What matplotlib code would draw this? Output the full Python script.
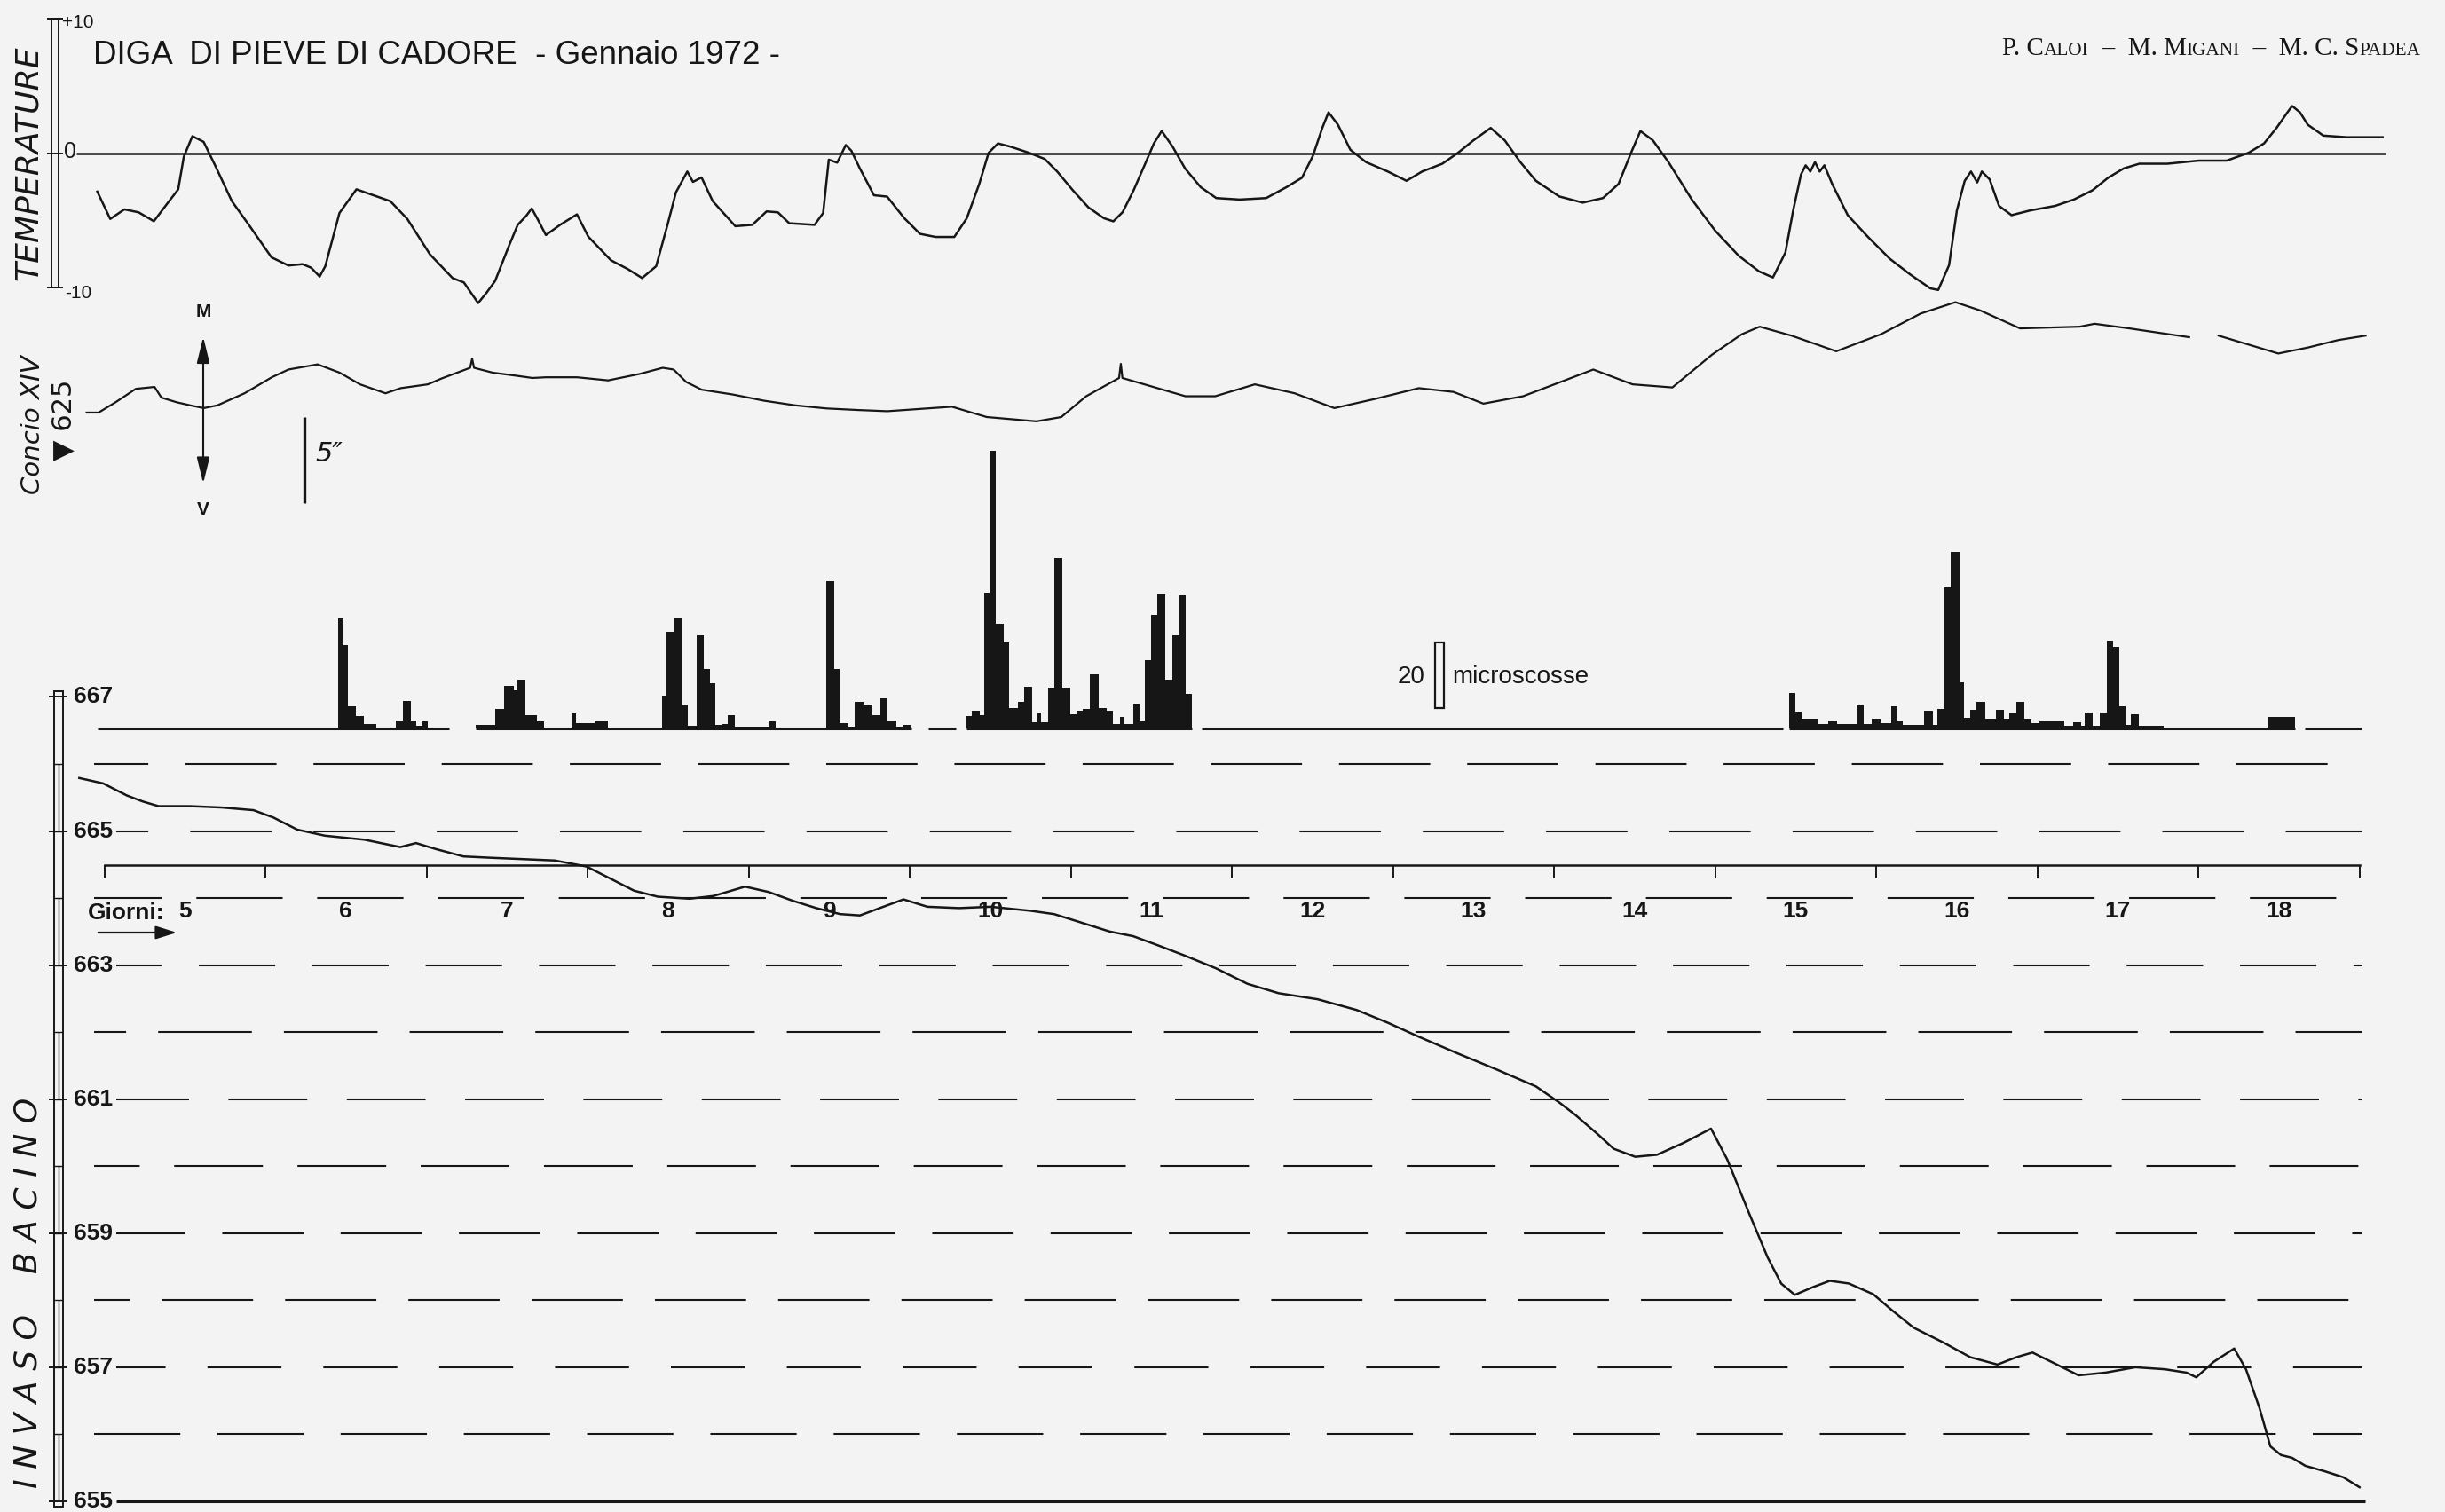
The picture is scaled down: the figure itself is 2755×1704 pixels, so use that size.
import numpy as np
import matplotlib
matplotlib.use("Agg")
import matplotlib.pyplot as plt
from matplotlib.patches import Rectangle, FancyArrowPatch

# all times in hours from 5 Jan 1972, 00h
temp_h = [-1.04, 0.89, 3.00, 5.12, 7.39, 9.32, 11.02, 11.85, 13.13, 14.81, 16.50, 19.01, 21.54, 24.91,
          27.44, 29.54, 30.81, 32.09, 32.93, 35.04, 37.57, 40.08, 42.62, 45.15, 48.52, 51.89, 53.58,
          55.70, 56.95, 58.23, 60.32, 61.60, 62.85, 63.69, 64.55, 65.80, 67.92, 70.43, 72.12, 75.49,
          78.02, 80.14, 82.23, 83.92, 85.18, 86.87, 87.71, 88.99, 90.66, 94.03, 96.56, 98.68, 100.37,
          102.05, 105.83, 107.11, 107.95, 109.20, 110.48, 111.32, 112.59, 114.68, 116.64, 119.21,
          121.54, 123.86, 126.65, 128.51, 130.37, 131.76, 133.16, 135.01, 137.80, 140.13, 141.98,
          144.31, 146.63, 148.95, 150.35, 151.74, 153.37, 154.99, 156.39, 157.55, 159.18, 161.03,
          163.36, 165.68, 169.17, 173.12, 176.14, 178.45, 180.08, 181.48, 182.41, 183.81, 185.66,
          187.99, 191.24, 194.03, 196.35, 199.37, 201.69, 204.01, 206.57, 208.66, 210.99, 213.31,
          216.79, 220.28, 223.30, 225.62, 227.48, 228.88, 230.73, 233.06, 236.54, 240.03, 243.51,
          246.53, 248.62, 250.48, 251.64, 252.80, 253.50, 254.20, 254.89, 255.59, 256.29, 257.45,
          259.77, 262.79, 266.04, 269.06, 272.08, 273.25, 274.87, 276.03, 277.20, 278.13, 279.06,
          279.75, 280.91, 282.31, 284.17, 286.95, 290.67, 293.46, 296.25, 298.57, 300.89, 303.22,
          307.40, 312.05, 316.23, 319.48, 321.80, 323.66, 325.29, 325.98, 327.15, 328.31, 330.63,
          334.12, 337.14, 339.46]
temp_c = [-2.85, -4.88, -4.17, -4.39, -5.05, -3.78, -2.68, -0.26, 1.27, 0.84, -0.89, -3.56, -5.32, -7.73,
          -8.34, -8.24, -8.50, -9.16, -8.39, -4.44, -2.68, -3.12, -3.56, -4.88, -7.51, -9.27, -9.60,
          -11.13, -10.37, -9.49, -6.85, -5.32, -4.66, -4.10, -4.88, -6.08, -5.32, -4.54, -6.20, -7.95,
          -8.61, -9.27, -8.39, -5.32, -2.90, -1.36, -2.13, -1.80, -3.56, -5.42, -5.32, -4.32, -4.39,
          -5.20, -5.32, -4.44, -0.48, -0.70, 0.61, 0.18, -1.14, -3.12, -3.22, -4.83,
          -5.99, -6.22, -6.22, -4.83, -2.28, 0.03, 0.73, 0.49, 0.03, -0.43, -1.36,
          -2.75, -4.02, -4.83, -5.06, -4.37, -2.75, -0.90, 0.73, 1.65, 0.49, -1.13,
          -2.52, -3.33, -3.44, -3.33, -2.52, -1.82, -0.20, 1.88, 3.04, 2.12, 0.26,
          -0.66, -1.36, -2.05, -1.36, -0.78, 0.03, 0.96, 1.88, 0.96, -0.66, -2.05,
          -3.21, -3.67, -3.33, -2.28, 0.03, 1.65, 0.96, -0.66, -3.44, -5.76, -7.61,
          -8.77, -9.23, -7.38, -4.25, -1.59, -0.90, -1.36, -0.66, -1.36, -0.90, -2.28,
          -4.60, -6.22, -7.84, -9.00, -10.04, -10.16, -8.31, -4.25, -2.05, -1.36, -2.17,
          -1.36, -1.94, -3.91, -4.60, -4.25, -3.91, -3.44, -2.75, -1.82, -1.13, -0.78,
          -0.78, -0.55, -0.55, 0.03, 0.73, 1.88, 3.04, 3.51, 3.04, 2.12, 1.31,
          1.19, 1.19, 1.19]

# concio XIV, quota 625: rotation in seconds of arc (M up, V down)
concio_h = [-2.64, -0.85, 1.68, 4.70, 7.49, 8.51, 10.79, 12.81, 14.83, 16.85, 20.89, 24.96, 27.44, 31.79,
            35.06, 38.11, 41.90, 44.17, 48.21, 50.26, 54.51, 54.81, 55.09, 57.86, 61.39, 63.80, 65.78,
            70.43, 75.07, 79.72, 83.20, 84.83, 86.69, 89.01, 93.66, 98.31, 102.95, 107.60, 112.25,
            116.68, 126.30, 131.48, 138.89, 142.59, 146.30, 151.2, 151.46, 151.7, 161.08, 165.52,
            171.44, 177.37, 183.27, 189.19, 195.86, 201.04, 205.48, 211.40, 221.86, 227.71, 233.64,
            239.54, 243.98, 246.65, 251.39, 258.06, 264.72, 270.62, 275.81, 279.52, 285.45, 294.32,
            296.55, 301.73, 307.63, 310.63, 312.8, 315.02, 319.48, 323.92, 328.36, 332.80, 336.93]
concio_as = [-0.24, -0.24, 0.36, 1.14, 1.25, 0.63, 0.36, 0.18, 0.02, 0.18, 0.88, 1.81, 2.26, 2.56,
             2.08, 1.40, 0.88, 1.18, 1.40, 1.74, 2.36, 2.89, 2.36, 2.08, 1.90, 1.77, 1.81,
             1.81, 1.63, 2.00, 2.36, 2.26, 1.54, 1.09, 0.81, 0.45, 0.18, 0.00, -0.09,
             -0.16, 0.10, -0.50, -0.75, -0.50, 0.71, 1.77, 2.59, 1.77, 0.71, 0.71,
             1.40, 0.88, 0.02, 0.54, 1.18, 0.96, 0.28, 0.71, 2.26, 1.40, 1.22,
             3.12, 4.31, 4.75, 4.23, 3.32, 4.31, 5.51, 6.17, 5.69, 4.65, 4.75,
             4.92, 4.65, 4.31, 4.14, np.nan, 4.23, 3.71, 3.19, 3.54, 3.97, 4.23]

# lake level (m a.s.l.)
livello_h = [-3.73, -0.18, 3.35, 5.72, 8.09, 12.78, 17.52, 22.24, 25.21, 28.75,
             32.88, 38.78, 44.10, 46.45, 49.42, 53.53, 57.67, 62.39, 67.13, 71.84,
             75.40, 78.93, 82.48, 87.20, 90.73, 95.47, 99.00, 102.56, 106.09, 109.64,
             112.59, 115.54, 119.08, 122.63, 127.35, 132.06, 137.99, 141.52, 145.05, 149.79,
             153.32, 156.85, 161.03, 165.68, 170.33, 174.97, 180.78, 186.59, 191.24, 195.88,
             201.69, 207.50, 213.31, 216.79, 219.12, 222.49, 224.90, 228.11, 231.34, 235.36,
             239.40, 241.82, 245.02, 247.83, 249.85, 251.88, 254.69, 257.10, 259.94, 263.56,
             266.37, 269.60, 274.02, 278.03, 282.08, 284.89, 287.30, 290.12, 294.16, 298.18,
             302.61, 307.03, 310.26, 311.70, 314.28, 317.35, 319.11, 321.13, 322.74, 324.34,
             325.97, 327.96, 330.80, 333.61, 336.03]
livello_m = [665.79, 665.71, 665.53, 665.44, 665.37, 665.37, 665.35, 665.31, 665.20, 665.02,
             664.93, 664.87, 664.76, 664.82, 664.73, 664.62, 664.60, 664.58, 664.56, 664.47,
             664.29, 664.11, 664.02, 663.99, 664.03, 664.17, 664.09, 663.96, 663.85, 663.76,
             663.74, 663.85, 663.98, 663.87, 663.85, 663.87, 663.81, 663.76, 663.65, 663.50,
             663.43, 663.30, 663.14, 662.95, 662.72, 662.58, 662.49, 662.33, 662.14, 661.93,
             661.68, 661.44, 661.19, 660.95, 660.77, 660.48, 660.26, 660.14, 660.17, 660.35,
             660.56, 660.10, 659.31, 658.64, 658.25, 658.08, 658.20, 658.29, 658.25, 658.09,
             657.85, 657.59, 657.37, 657.15, 657.04, 657.15, 657.22, 657.08, 656.88, 656.92,
             657.00, 656.97, 656.92, 656.85, 657.08, 657.28, 656.97, 656.39, 655.82, 655.69,
             655.65, 655.53, 655.45, 655.36, 655.21]

# microscosse per interval: bin edges (h) and counts, one list per burst
scosse_edges = [
    [34.9, 35.6, 36.3, 37.5, 38.7, 40.5],
    [43.4, 44.5, 45.7, 46.5, 47.4, 48.2],
    [55.4, 58.2, 59.6, 61.0, 61.6, 62.7, 64.4, 65.5],
    [69.6, 70.3, 73.1, 75.0],
    [83.1, 83.8, 84.9, 86.1, 87.0, 88.2, 89.3, 90.2, 91.0, 92.0, 92.9, 93.9, 99.1, 100.0],
    [107.6, 108.8, 109.6, 110.9, 111.8, 113.1, 114.4, 115.6, 116.7, 118.0, 118.9, 120.2],
    [128.4, 129.3, 130.4, 131.1, 131.9, 132.8, 134.0, 134.8, 136.1, 137.0, 138.3, 138.9, 139.6,
     140.6, 141.6, 142.7, 143.9, 144.9, 145.8, 146.9, 148.2, 149.3, 150.3, 151.3, 152.0, 153.3,
     154.2, 155.0, 156.0, 156.9, 158.1, 159.1, 160.2, 161.1, 162.0],
    [251.0, 252.0, 252.9, 255.3, 256.8, 258.2, 261.2, 262.1, 263.3, 264.7, 266.2, 267.2, 268.0,
     271.2, 272.4, 273.1, 274.2, 275.1, 276.4, 277.1, 278.0, 279.0, 280.2, 281.9, 283.0, 283.9,
     284.9, 286.1, 287.2, 288.3, 292.0, 293.4, 294.5, 295.1, 296.3, 297.3, 298.4, 299.3, 300.2,
     301.2, 302.0, 303.2, 306.9],
    [322.3, 326.4],
]
scosse_counts = [
    [33, 25, 6.7, 3.6, 1.3],
    [2.2, 8.2, 2.2, 0.6, 2.0],
    [1.0, 5.8, 12.7, 11.3, 14.7, 3.8, 2.0],
    [4.3, 1.6, 2.2],
    [9.8, 29.0, 33.5, 7.1, 0.7, 27.9, 17.9, 13.6, 0.9, 1.3, 4.0, 0.4, 2.0],
    [44.5, 17.9, 1.6, 0.3, 8.0, 7.1, 3.8, 8.9, 2.2, 0.3, 1.0],
    [3.6, 5.1, 3.9, 40.8, 83.9, 31.6, 26.0, 6.0, 8.0, 12.5, 1.8, 4.6, 1.8, 12.2, 51.3, 12.2, 4.2,
     5.1, 5.7, 16.1, 6.0, 5.1, 1.1, 3.3, 1.25, 7.5, 2.4, 20.4, 34.3, 40.5, 14.6, 28.0, 40.2, 10.4],
    [10.7, 4.9, 2.7, 1.2, 2.4, 1.2, 6.9, 1.2, 2.7, 1.5, 6.7, 2.2, 0.9, 5.1, 0.9, 5.8, 42.6, 53.3,
     13.8, 3.1, 5.4, 8.0, 2.7, 5.6, 2.7, 4.5, 8.0, 2.7, 1.5, 2.2, 0.6, 1.8, 0.6, 4.6, 0.6, 4.6,
     26.5, 24.6, 6.5, 0.9, 4.2, 0.6],
    [3.3],
]
# periods with the seismograph running (h)
reg_inizio = [-1.0, 55.4, 122.8, 128.4, 163.5, 251.0, 327.9]
reg_fine = [51.4, 120.2, 126.9, 162.0, 250.1, 326.4, 336.3]

giorni = list(range(5, 19))

W, H = 2755, 1704
X5 = 117.5          # pixel column of 5 Jan 0h
PX_ORA = 7.5625     # pixels per hour

INK = "#161616"
BG = "#f3f3f3"
NARROW = ["Liberation Sans", "DejaVu Sans"]
SERIF = ["Liberation Serif", "DejaVu Serif"]

plt.rcParams["lines.scale_dashes"] = False

fig = plt.figure(figsize=(W / 100, H / 100), dpi=100, facecolor=BG)


def ora(px):
    return (px - X5) / PX_ORA


def fx(px):
    return px / W


def fy(py):
    return 1 - py / H


def striscia(top, bottom, zero_px, px_unit, zero_val=0.0):
    # full-width band, same time scale for every band
    ax = fig.add_axes([0, fy(bottom), 1, (bottom - top) / H])
    ax.set_xlim(ora(0), ora(W))
    ax.set_ylim(zero_val - (bottom - zero_px) / px_unit, zero_val + (zero_px - top) / px_unit)
    ax.set_axis_off()
    return ax


# --- temperature
ax_t = striscia(0, 370, 172.7, 15.17)
ax_t.plot(temp_h, temp_c, color=INK, lw=1.8)
ax_t.hlines(0, ora(86), ora(2688), color=INK, lw=1.8)
ax_t.add_patch(Rectangle((ora(58), -10), ora(66) - ora(58), 20, fill=False, ec=INK, lw=1.4))
ax_t.hlines([10, 0, -10], ora(53), ora(71), color=INK, lw=1.4)
ax_t.text(ora(70), 9.7, "+10", fontsize=15, family=NARROW, ha="left", va="center", color=INK)
ax_t.text(ora(72), 0.1, "0", fontsize=18, family=NARROW, ha="left", va="center", color=INK)
ax_t.text(ora(73), -10.4, "-10", fontsize=15, family=NARROW, ha="left", va="center", color=INK)
fig.text(fx(32), fy(184), "TEMPERATURE", rotation=90, style="italic", fontsize=26,
         ha="center", va="center", color=INK)

# --- concio XIV
ax_c = striscia(330, 620, 460.3, 19.4)
ax_c.plot(concio_h, concio_as, color=INK, lw=1.6)
ax_c.annotate("", xy=(ora(229), 4.3), xytext=(ora(229), -4.5),
              arrowprops=dict(arrowstyle="<|-|>,head_length=0.9,head_width=0.22",
                              color=INK, lw=1.5, mutation_scale=20))
ax_c.text(ora(229), 5.6, "M", fontsize=15, fontweight="bold", ha="center", va="center",
          family=NARROW, color=INK)
ax_c.text(ora(229), -5.9, "V", fontsize=15, fontweight="bold", ha="center", va="center",
          family=NARROW, color=INK)
ax_c.vlines(ora(343), -5.5, -0.5, color=INK, lw=2.4)
ax_c.text(ora(355), -2.65, "5\u2033", style="italic", fontsize=22, ha="left", va="center",
          color=INK)
fig.text(fx(37), fy(479), "Concio XIV", rotation=90, style="italic", fontsize=21,
         ha="center", va="center", color=INK)
fig.text(fx(72), fy(473), "\u25bc 625", rotation=90, fontsize=22,
         ha="center", va="center", color=INK)

# --- microscosse
ax_b = striscia(480, 840, 820.5, 3.73)
for e, c in zip(scosse_edges, scosse_counts):
    ax_b.stairs(c, e, fill=True, color=INK, lw=0)
ax_b.hlines(np.zeros(len(reg_inizio)), reg_inizio, reg_fine, color=INK, lw=2.2)
ax_b.add_patch(Rectangle((ora(1617), 6), ora(1627) - ora(1617), 20, fill=False, ec=INK, lw=1.6))
ax_b.text(ora(1606), 15.5, "20", fontsize=20, ha="right", va="center", family=NARROW, color=INK)
ax_b.text(ora(1636), 15.5, "microscosse", fontsize=20, ha="left", va="center", family=NARROW,
          color=INK)

# --- invaso bacino
ax_r = striscia(760, 1704, 785.4, 75.55, zero_val=667)
trattini = [(0, (70, 30)), (20, (60, 34)), (45, (74, 26)), (10, (66, 30)), (35, (72, 28)),
            (5, (64, 32)), (50, (76, 26)), (25, (62, 30)), (15, (70, 28)), (40, (66, 34)),
            (30, (74, 30))]
for q, ls in zip(range(656, 667), trattini):
    x_da = ora(131) if q % 2 else ora(106)
    ax_r.hlines(q, x_da, ora(2662), color=INK, lw=1.5, linestyles=[ls])
ax_r.hlines(655, ora(131), ora(2665), color=INK, lw=2.2)
ax_r.plot(livello_h, livello_m, color=INK, lw=1.8)

bx0, bx1 = ora(61), ora(71)
ax_r.add_patch(Rectangle((bx0, 654.92), bx1 - bx0, 12.16, fill=False, ec=INK, lw=1.4))
ax_r.hlines(np.arange(656, 667), bx0, bx1, color=INK, lw=1.0)
mezzi = np.arange(655, 667, 2)
ax_r.vlines(np.full(len(mezzi), (bx0 + bx1) / 2), mezzi, mezzi + 1, color=INK, lw=1.0)
ax_r.hlines(np.arange(655, 668, 2), ora(55), ora(76), color=INK, lw=1.4)
for q in range(655, 668, 2):
    ax_r.text(ora(83), q, str(q), fontsize=19, fontweight="bold", family=NARROW,
              ha="left", va="center", color=INK)
fig.text(fx(32), fy(1457), "I N V A S O    B A C I N O", rotation=90, style="italic",
         fontsize=26, ha="center", va="center", color=INK)

# --- day axis
ax_g = fig.add_axes([fx(X5), fy(975), 24 * len(giorni) * PX_ORA / W, 20 / H])
ax_g.patch.set_visible(False)
ax_g.set_xlim(0, 24 * len(giorni))
for s in ["top", "left", "right"]:
    ax_g.spines[s].set_visible(False)
ax_g.spines["bottom"].set_linewidth(1.8)
ax_g.spines["bottom"].set_color(INK)
ax_g.set_yticks([])
ax_g.set_xticks(np.arange(len(giorni) + 1) * 24)
ax_g.set_xticks(np.arange(len(giorni)) * 24 + 12, minor=True)
ax_g.set_xticklabels([str(g) for g in giorni], minor=True)
ax_g.tick_params(axis="x", which="major", length=11, width=1.4, color=INK, labelbottom=False)
ax_g.tick_params(axis="x", which="minor", length=0, pad=29, labelsize=19, labelcolor=INK)
for lab in ax_g.get_xticklabels(minor=True):
    lab.set_fontfamily(NARROW)
    lab.set_fontweight("bold")
fig.text(fx(185), fy(1017), "Giorni:", fontsize=19, fontweight="bold", family=NARROW,
         ha="right", va="top", color=INK)
fig.add_artist(FancyArrowPatch((fx(108), fy(1051)), (fx(202), fy(1051)),
                               transform=fig.transFigure,
                               arrowstyle="-|>,head_length=0.8,head_width=0.25",
                               mutation_scale=18, lw=1.6, color=INK))

# --- heading
fig.text(fx(105), fy(63), "DIGA  DI PIEVE DI CADORE  - Gennaio 1972 -", fontsize=26.5,
         family=NARROW, ha="left", va="center", color=INK)

pezzi = [("P. C", True), ("ALOI", False), ("  \u2013  M. M", True), ("IGANI", False),
         ("  \u2013  M. C. S", True), ("PADEA", False)]
rend = fig.canvas.get_renderer()
testi = []
for s, grande in pezzi:
    t = fig.text(0, fy(62), s, fontsize=21 if grande else 15.3, family=SERIF, ha="left",
                 va="baseline", color=INK)
    testi.append(t)
larghezze = [t.get_window_extent(rend).width for t in testi]
x = 2727 - sum(larghezze)
for t, w in zip(testi, larghezze):
    t.set_x(fx(x))
    x += w

fig.savefig("out.png", dpi=100, facecolor=BG)
